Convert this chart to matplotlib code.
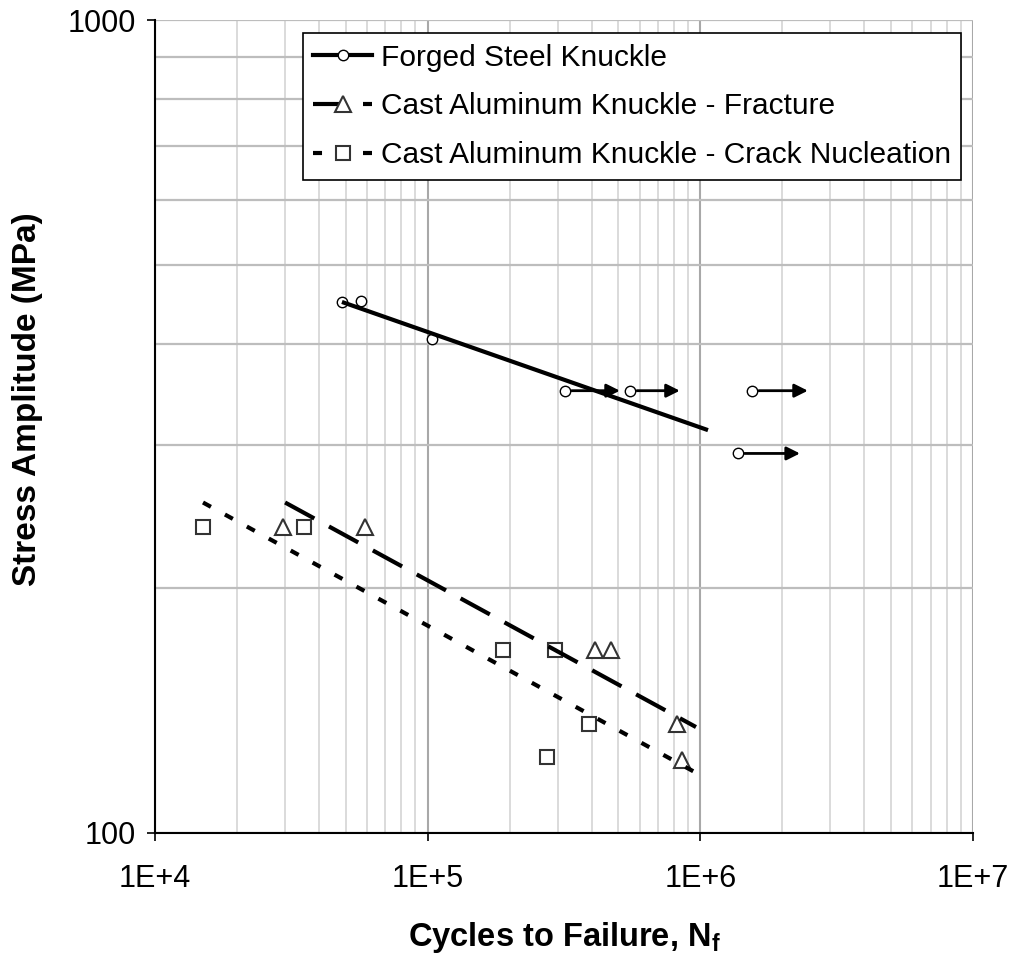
import matplotlib
matplotlib.use('Agg')
import matplotlib.pyplot as plt
from matplotlib.lines import Line2D
from matplotlib.ticker import FixedLocator, NullFormatter, LogLocator

plt.rcParams['font.family'] = ['Liberation Sans', 'DejaVu Sans']
plt.rcParams['lines.scale_dashes'] = False

# forged steel knuckle data (cycles, MPa)
steel_n = [48500, 56900, 103800, 318000, 552000, 1545000, 1370000]
steel_s = [450, 451, 405, 350, 350, 350, 293]
# run-outs (arrows): index into steel data, arrow end in cycles
runout_idx = [3, 4, 5, 6]
runout_end = [507000, 841000, 2480000, 2320000]

# cast aluminum - fracture
frac_n = [29400, 58900, 410000, 470000, 820000, 857000]
frac_s = [238, 238, 168, 168, 136, 123]

# cast aluminum - crack nucleation
crack_n = [15000, 35200, 189000, 293000, 391000, 274000]
crack_s = [238, 238, 168, 168, 136, 124]

# fitted lines (end points)
steel_fit_n = [48500, 1067000]
steel_fit_s = [450, 313]
frac_fit_n = [30000, 964000]
frac_fit_s = [255, 135]
crack_fit_n = [15000, 964000]
crack_fit_s = [255, 118.6]

fig = plt.figure(figsize=(10.11, 9.59), dpi=100)
ax = fig.add_axes([0.1533, 0.1314, 0.8091, 0.8477])
ax.set_xscale('log')
ax.set_yscale('log')
ax.set_xlim(1e4, 1e7)
ax.set_ylim(100, 1000)

# grid
ax.xaxis.set_minor_locator(LogLocator(base=10, subs=range(2, 10)))
ax.xaxis.set_minor_formatter(NullFormatter())
ax.yaxis.set_minor_locator(FixedLocator([200, 300, 400, 500, 600, 700, 800, 900]))
ax.yaxis.set_minor_formatter(NullFormatter())
ax.grid(True, which='minor', axis='x', color='#d4d4d4', lw=1.2)
ax.grid(True, which='major', axis='x', color='#a8a8a8', lw=1.5)
ax.grid(True, which='both', axis='y', color='#bdbdbd', lw=1.6)
ax.set_axisbelow(True)
ax.tick_params(which='minor', length=0)
ax.tick_params(which='major', direction='out', length=6, width=1.2,
               labelsize=22, pad=8)
ax.tick_params(axis='x', pad=16)
ax.set_xticks([1e4, 1e5, 1e6, 1e7])
ax.set_xticklabels(['1E+4', '1E+5', '1E+6', '1E+7'])
ax.set_yticks([100, 1000])
ax.set_yticklabels(['100', '1000'])
for s in ['top', 'right']:
    ax.spines[s].set_visible(False)
for s in ['left', 'bottom']:
    ax.spines[s].set_linewidth(1.5)

# fitted lines
ax.plot(steel_fit_n, steel_fit_s, color='black', lw=3, solid_capstyle='butt', zorder=3)
ax.plot(frac_fit_n, frac_fit_s, color='black', lw=3, dashes=(24, 12), zorder=3)
ax.plot(crack_fit_n, crack_fit_s, color='black', lw=3, dashes=(6.5, 11.5), zorder=3)

# data points
ax.plot(steel_n, steel_s, 'o', ms=7.5, mfc='white', mec='black', mew=1.0, zorder=2)
ax.plot(frac_n, frac_s, '^', ms=11, mfc='white', mec='#333333', mew=1.5, zorder=2)
ax.plot(crack_n, crack_s, 's', ms=10, mfc='white', mec='#333333', mew=1.5, zorder=2)

# run-out arrows
for i, xe in zip(runout_idx, runout_end):
    ax.annotate('', xy=(xe, steel_s[i]), xytext=(steel_n[i], steel_s[i]),
                arrowprops=dict(arrowstyle='-|>', color='black', lw=2,
                                mutation_scale=20, shrinkA=5, shrinkB=0),
                zorder=4)

ax.set_xlabel('Cycles to Failure, N$_\\mathregular{f}$', fontsize=23.5,
              fontweight='bold', labelpad=19)
ax.set_ylabel('Stress Amplitude (MPa)', fontsize=24, fontweight='bold')
ax.yaxis.set_label_coords(-0.137, 0.534)

handles = [
    Line2D([], [], color='black', lw=3, marker='o', ms=7.5, mfc='white', mec='black'),
    Line2D([], [], color='black', lw=3, dashes=(24, 12), marker='^', ms=11,
           mfc='white', mec='#333333', mew=1.5),
    Line2D([], [], color='black', lw=3, dashes=(6.5, 11.5), marker='s', ms=10,
           mfc='white', mec='#333333', mew=1.5),
]
labels = ['Forged Steel Knuckle', 'Cast Aluminum Knuckle - Fracture',
          'Cast Aluminum Knuckle - Crack Nucleation']
leg = ax.legend(handles, labels, loc='upper left', bbox_to_anchor=(0.181, 0.984),
                borderaxespad=0, fontsize=21.5, fancybox=False, framealpha=1,
                edgecolor='black', handlelength=1.95, handletextpad=0.3,
                labelspacing=0.7, borderpad=0.35, numpoints=1)
leg.get_frame().set_linewidth(1.2)

fig.savefig('out.png', dpi=100)
